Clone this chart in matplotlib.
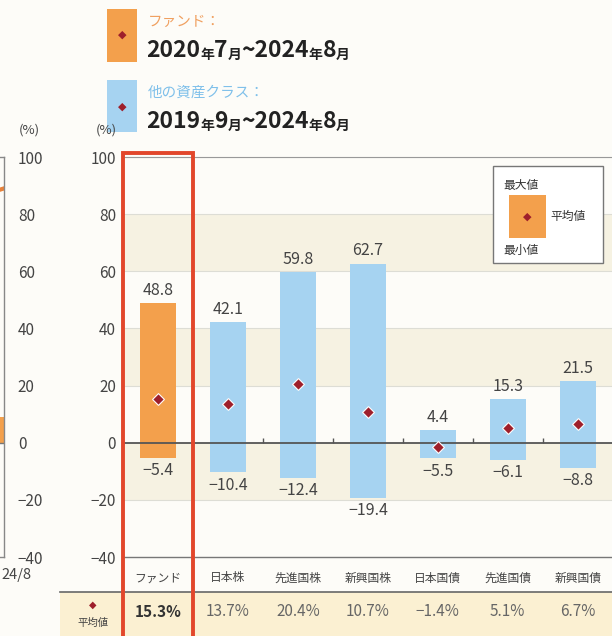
import matplotlib
matplotlib.use("Agg")
import matplotlib.pyplot as plt
import matplotlib.patches as patches
import matplotlib.transforms as mtransforms

plt.rcParams['font.family'] = ['Noto Sans CJK JP', 'DejaVu Sans']

# data
categories = ["ファンド", "日本株", "先進国株", "新興国株", "日本国債", "先進国債", "新興国債"]
max_vals = [48.8, 42.1, 59.8, 62.7, 4.4, 15.3, 21.5]
min_vals = [-5.4, -10.4, -12.4, -19.4, -5.5, -6.1, -8.8]
mean_vals = [15.3, 13.7, 20.4, 10.7, -1.4, 5.1, 6.7]
yticks = [100, 80, 60, 40, 20, 0, -20, -40]
left_bar = [9.0]
left_line = [88.0, 89.0]

ORANGE = "#F3A04C"
BLUE = "#A6D3F1"
DIAMOND = "#9E1F2B"
RED = "#E2472B"
BEIGE = "#F6F2E2"
BG = "#FDFCF8"
TXT = "#444444"

W, H = 612, 636
fig = plt.figure(figsize=(W / 100, H / 100), dpi=100, facecolor=BG)


def fx(x):
    return x / W


def fy(y):
    return 1 - y / H


# main axes
ax = fig.add_axes([fx(123), fy(557), 1 - fx(123), fy(157) - fy(557)])
ax.set_facecolor(BG)
ax.set_ylim(-40, 100)
ax.set_xlim(-0.5, 6.49)
for lo in [60, 20, -20]:
    ax.axhspan(lo, lo + 20, color=BEIGE, zorder=0, lw=0)
for t in [100, 80, 60, 40, 20, -20]:
    ax.axhline(t, color="#DDDDD5", lw=0.8, zorder=1)

xs = list(range(len(categories)))
colors = [ORANGE] + [BLUE] * (len(categories) - 1)
heights = [mx - mn for mx, mn in zip(max_vals, min_vals)]
ax.bar(xs, heights, bottom=min_vals, width=0.52, color=colors, zorder=2)
ax.axhline(0, color="#555555", lw=1.3, zorder=3)
ax.vlines([i + 0.5 for i in range(1, 6)], 0, 1.6, color="#555555", lw=1, zorder=3)
ax.scatter(xs, mean_vals, marker="D", s=36, color=DIAMOND, edgecolor="white",
           linewidth=0.8, zorder=4)
for x, mx, mn in zip(xs, max_vals, min_vals):
    ax.annotate(f"{mx:.1f}", (x, mx), xytext=(0, 3), textcoords="offset points",
                ha="center", va="bottom", fontsize=11.5, color=TXT)
    ax.annotate(f"{mn:.1f}".replace("-", "−"), (x, mn), xytext=(0, -3),
                textcoords="offset points", ha="center", va="top", fontsize=11.5, color=TXT)

ax.set_xticks([])
ax.set_yticks(yticks)
ax.set_yticklabels([str(t).replace("-", "−") for t in yticks], fontsize=11, color=TXT)
ax.tick_params(axis="y", length=0, pad=5)
ax.spines["left"].set_visible(False)
ax.spines["right"].set_visible(False)
ax.spines["top"].set_color("#999999")
ax.spines["bottom"].set_color("#777777")
ax.spines["bottom"].set_linewidth(1)

# left partial chart (cut off by the picture edge)
axl = fig.add_axes([-0.3, fy(557), 0.3 + fx(4), fy(157) - fy(557)])
axl.set_facecolor(BG)
axl.set_ylim(-40, 100)
axl.set_xlim(0, 10)
axl.bar([9.9], left_bar, width=0.4, color=ORANGE, zorder=2)
axl.plot([9.5, 10.0], left_line, color="#E8823A", lw=3, zorder=2)
axl.axhline(0, color="#777777", lw=1)
axl.yaxis.tick_right()
axl.set_yticks(yticks)
axl.set_yticklabels([str(t).replace("-", "−") for t in yticks], fontsize=11,
                    color=TXT, ha="left")
axl.tick_params(axis="y", length=0, pad=10)
axl.set_xticks([])
for s in axl.spines.values():
    s.set_color("#888888")
    s.set_linewidth(1)
fig.text(fx(1), fy(575), "24/8", ha="left", va="center", fontsize=10.5, color=TXT)

fig.text(fx(29), fy(130), "(%)", ha="center", va="center", fontsize=9.5, color=TXT)
fig.text(fx(106), fy(130), "(%)", ha="center", va="center", fontsize=9.5, color=TXT)

# bottom rows
trans = mtransforms.blended_transform_factory(ax.transData, fig.transFigure)
fig.patches.append(patches.Rectangle((fx(60), 0), 1, fy(592), transform=fig.transFigure,
                                     color="#FBF0D2", lw=0, zorder=0))
fig.add_artist(plt.Line2D([fx(60), 1], [fy(592), fy(592)], transform=fig.transFigure,
                          color="#666666", lw=1.2))
for x, c in zip(xs, categories):
    fig.text(x, fy(578), c, transform=trans, ha="center", va="center", fontsize=8.5, color=TXT)
for x, m in zip(xs, mean_vals):
    fig.text(x, fy(612), f"{m:.1f}%".replace("-", "−"), transform=trans, ha="center",
             va="center", fontsize=11, color="#333333" if x == 0 else "#666666",
             fontweight="bold" if x == 0 else "normal")
fig.text(fx(93), fy(605), "◆", ha="center", va="center", fontsize=7, color=DIAMOND,
         family=["DejaVu Sans"])
fig.text(fx(93), fy(623), "平均値", ha="center", va="center", fontsize=7.5, color=TXT)

# red highlight box around the fund
fig.add_artist(patches.Rectangle((-0.5, -0.02), 1.0, fy(153) + 0.02, transform=trans,
                                 fill=False, edgecolor=RED, lw=2.8, zorder=10))

# inner legend
fig.add_artist(patches.Rectangle((fx(493), fy(263)), fx(110), fy(166) - fy(263),
                                 transform=fig.transFigure, facecolor="white",
                                 edgecolor="#777777", lw=1, zorder=5))
fig.add_artist(patches.Rectangle((fx(509), fy(238)), fx(37), fy(195) - fy(238),
                                 transform=fig.transFigure, facecolor=ORANGE, lw=0, zorder=6))
fig.text(fx(527), fy(217), "◆", ha="center", va="center", fontsize=8, color=DIAMOND,
         family=["DejaVu Sans"], zorder=7)
fig.text(fx(503), fy(185), "最大値", ha="left", va="center", fontsize=8.5, color="#333333", zorder=7)
fig.text(fx(503), fy(250), "最小値", ha="left", va="center", fontsize=8.5, color="#333333", zorder=7)
fig.text(fx(550), fy(216), "平均値", ha="left", va="center", fontsize=8.5, color="#333333", zorder=7)

# top legend
fig.add_artist(patches.Rectangle((fx(107), fy(62)), fx(30), fy(9) - fy(62),
                                 transform=fig.transFigure, facecolor=ORANGE, lw=0))
fig.add_artist(patches.Rectangle((fx(107), fy(132)), fx(30), fy(80) - fy(132),
                                 transform=fig.transFigure, facecolor=BLUE, lw=0))
fig.text(fx(122), fy(35), "◆", ha="center", va="center", fontsize=8, color=DIAMOND,
         family=["DejaVu Sans"])
fig.text(fx(122), fy(107), "◆", ha="center", va="center", fontsize=8, color=DIAMOND,
         family=["DejaVu Sans"])
fig.text(fx(148), fy(22), "ファンド：", ha="left", va="center", fontsize=10.5, color="#F0A060")
fig.text(fx(148), fy(93), "他の資産クラス：", ha="left", va="center", fontsize=10.5, color="#7FC0EA")


def period_line(x, y, parts):
    # big digits and small 年/月 chained one after another
    prev = fig.text(x, y, parts[0][0], ha="left", va="bottom", fontsize=16.5,
                    fontweight="bold", color="#222222")
    for s, big in parts[1:]:
        size = 16.5 if big else 10
        prev = fig.add_artist(plt.Annotation(
            s, xy=(1, 0), xycoords=prev, ha="left", va="bottom", fontsize=size,
            fontweight="bold", color="#222222", annotation_clip=False))


period_line(fx(146), fy(62), [("2020", True), ("年", False), ("7", True), ("月", False),
                              ("~2024", True), ("年", False), ("8", True), ("月", False)])
period_line(fx(146), fy(133), [("2019", True), ("年", False), ("9", True), ("月", False),
                               ("~2024", True), ("年", False), ("8", True), ("月", False)])

fig.savefig("out.png", dpi=100, facecolor=BG)
